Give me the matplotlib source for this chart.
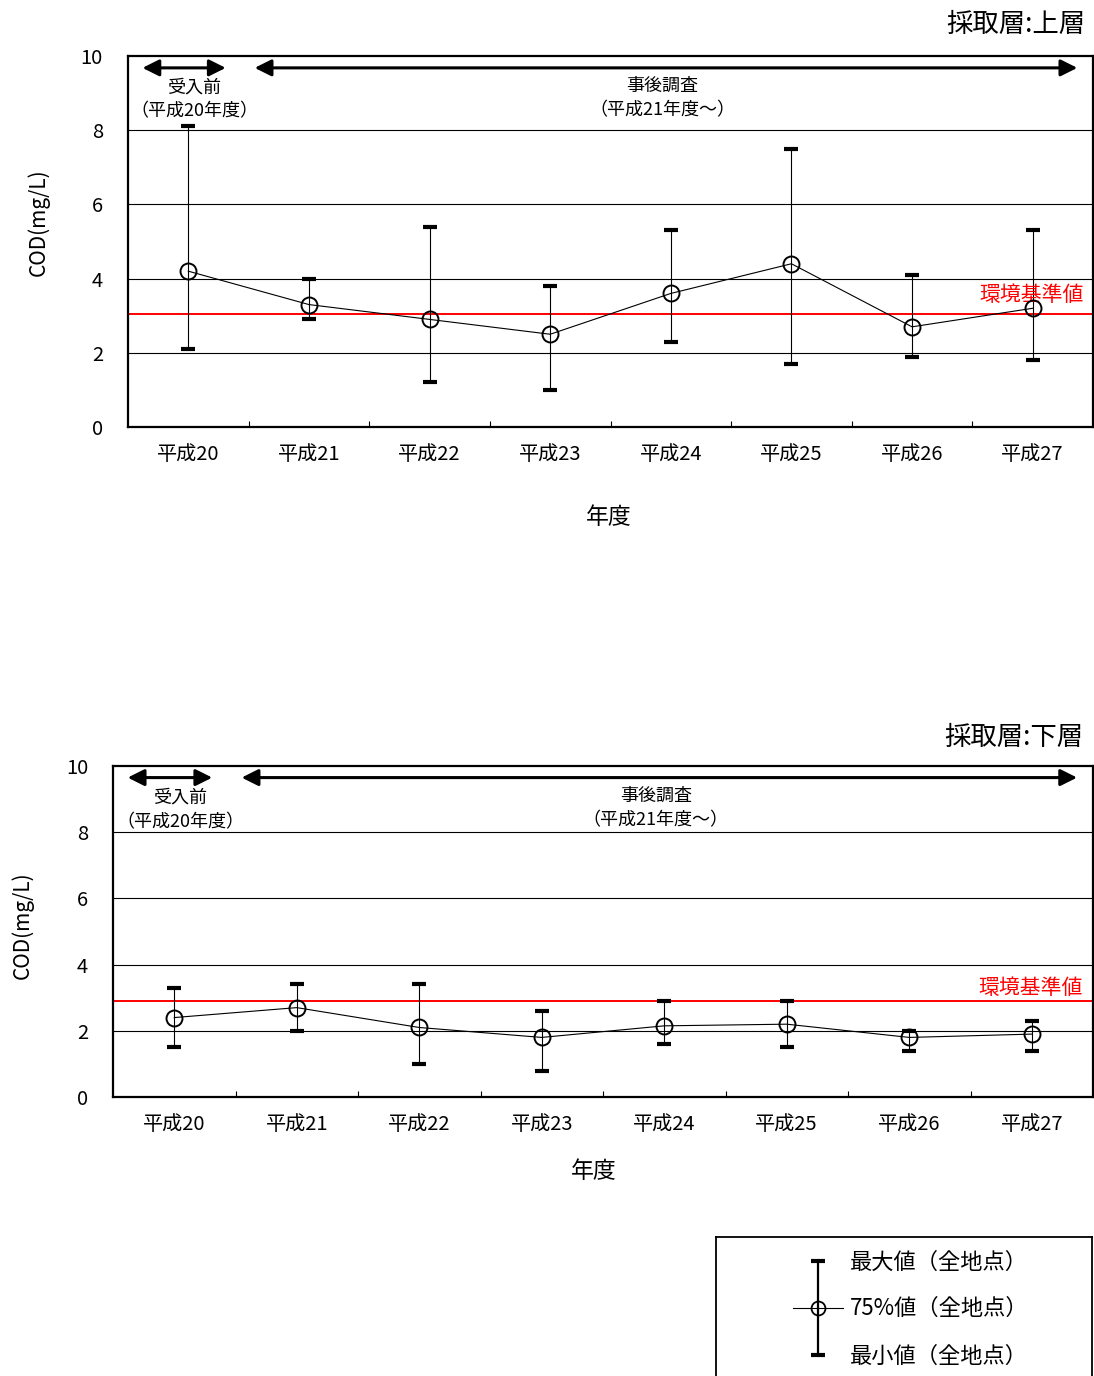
import matplotlib
matplotlib.use("Agg")
import matplotlib.pyplot as plt
import numpy as np

plt.rcParams['font.family'] = ['Noto Sans CJK JP', 'DejaVu Sans']

years = ['平成20', '平成21', '平成22', '平成23', '平成24', '平成25', '平成26', '平成27']

upper_p75 = [4.2, 3.3, 2.9, 2.5, 3.6, 4.4, 2.7, 3.2]
upper_max = [8.1, 4.0, 5.4, 3.8, 5.3, 7.5, 4.1, 5.3]
upper_min = [2.1, 2.9, 1.2, 1.0, 2.3, 1.7, 1.9, 1.8]
upper_std = 3.05

lower_p75 = [2.4, 2.7, 2.1, 1.8, 2.15, 2.2, 1.8, 1.9]
lower_max = [3.3, 3.4, 3.4, 2.6, 2.9, 2.9, 2.0, 2.3]
lower_min = [1.5, 2.0, 1.0, 0.8, 1.6, 1.5, 1.4, 1.4]
lower_std = 2.9

yticks = [0, 2, 4, 6, 8, 10]

W, H = 1094, 1376
fig = plt.figure(figsize=(W / 100, H / 100), dpi=100)


def px_rect(l, t, r, b):
    return [l / W, 1 - b / H, (r - l) / W, (b - t) / H]


def draw_panel(rect, p75, vmax, vmin, std, arrow_y, txt1_y, txt2_y,
               std_txt_y, ypad, xpad):
    ax = fig.add_axes(rect)
    x = np.arange(len(years))
    p = np.array(p75)
    lo = p - np.array(vmin)
    hi = np.array(vmax) - p
    ax.set_xlim(-0.5, len(years) - 0.5)
    ax.set_ylim(0, 10)
    for g in [2, 4, 6, 8]:
        ax.axhline(g, color='black', lw=0.8, zorder=1)
    ax.axhline(std, color='#ff0000', lw=1.4, zorder=2)
    ax.errorbar(x, p, yerr=[lo, hi], fmt='none', ecolor='black',
                elinewidth=0.8, capsize=5.2, capthick=3.0, zorder=3)
    ax.plot(x, p, color='black', lw=0.8, marker='o', markersize=11.5,
            markerfacecolor='none', markeredgecolor='black',
            markeredgewidth=1.4, zorder=4)
    ax.set_xticks(x)
    ax.set_xticklabels(years, fontsize=14.5)
    ax.set_xticks(np.arange(0.5, len(years) - 0.5, 1.0), minor=True)
    ax.tick_params(axis='x', which='major', length=0, pad=xpad)
    ax.tick_params(axis='x', which='minor', direction='in', length=4.5,
                   width=0.8)
    ax.set_yticks(yticks)
    ax.set_yticklabels([str(v) for v in yticks], fontsize=14.5)
    ax.tick_params(axis='y', length=0, pad=ypad)
    for s in ax.spines.values():
        s.set_linewidth(1.6)
        s.set_color('black')
    # period arrows
    aprops = dict(arrowstyle='<|-|>,head_length=1.0,head_width=0.5',
                  mutation_scale=10, lw=2.2, color='black',
                  shrinkA=0, shrinkB=0)
    ax.annotate('', xy=(-0.38, arrow_y), xytext=(0.31, arrow_y),
                arrowprops=aprops)
    ax.annotate('', xy=(0.55, arrow_y), xytext=(7.37, arrow_y),
                arrowprops=aprops)
    ax.text(0.05, txt1_y, '受入前', ha='center', va='center', fontsize=13)
    ax.text(0.05, txt2_y, '（平成20年度）', ha='center', va='center',
            fontsize=13)
    ax.text(3.93, txt1_y + 0.05, '事後調査', ha='center', va='center',
            fontsize=13)
    ax.text(3.93, txt2_y + 0.05, '（平成21年度～）', ha='center',
            va='center', fontsize=13)
    ax.text(7.42, std_txt_y, '環境基準値', ha='right', va='center',
            fontsize=15, color='#ff0000')
    return ax


ax1 = draw_panel(px_rect(128, 56, 1093, 427), upper_p75, upper_max,
                 upper_min, upper_std, 9.68, 9.15, 8.5, 3.55, 18, 12)
ax2 = draw_panel(px_rect(113, 766, 1093, 1097), lower_p75, lower_max,
                 lower_min, lower_std, 9.65, 9.05, 8.3, 3.3, 18, 12)

fig.text(1085 / W, 1 - 24 / H, '採取層:上層', ha='right', va='center',
         fontsize=19)
fig.text(1083 / W, 1 - 738 / H, '採取層:下層', ha='right', va='center',
         fontsize=19)
fig.text(609 / W, 1 - 517 / H, '年度', ha='center', va='center', fontsize=16.5)
fig.text(594 / W, 1 - 1172 / H, '年度', ha='center', va='center', fontsize=16.5)
fig.text(38 / W, 1 - 222 / H, 'COD(mg/L)', ha='center', va='center',
         rotation=90, fontsize=15)
fig.text(22 / W, 1 - 925 / H, 'COD(mg/L)', ha='center', va='center',
         rotation=90, fontsize=15)

# legend box
lg = fig.add_axes(px_rect(716, 1237, 1092, 1376 + 5))
lg.set_xlim(716, 1092)
lg.set_ylim(1381, 1237)
lg.set_xticks([])
lg.set_yticks([])
for k, s in lg.spines.items():
    s.set_linewidth(1.3)
lg.spines['bottom'].set_visible(False)
lg.errorbar([818], [1308], yerr=[[47], [47]], fmt='none', ecolor='black',
            elinewidth=1.6, capsize=5.2, capthick=3.0)
lg.plot([793, 843], [1308, 1308], color='black', lw=0.8)
lg.plot([818], [1308], marker='o', markersize=10, markerfacecolor='none',
        markeredgecolor='black', markeredgewidth=1.3)
lg.text(850, 1262, '最大値（全地点）', ha='left', va='center', fontsize=16)
lg.text(850, 1308, '75%値（全地点）', ha='left', va='center', fontsize=16)
lg.text(850, 1356, '最小値（全地点）', ha='left', va='center', fontsize=16)

fig.savefig('out.png', dpi=100)
